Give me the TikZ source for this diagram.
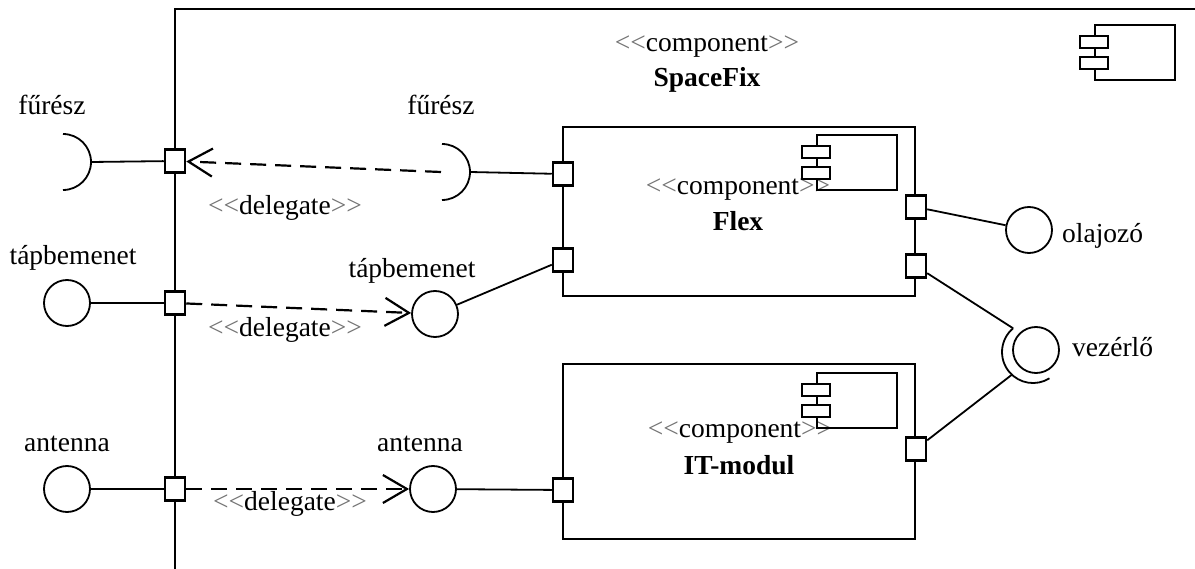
\documentclass[tikz,border=0pt]{standalone}
\usepackage{fontspec}
\setmainfont{Liberation Serif}[Ligatures=TeXOff]
\usetikzlibrary{arrows.meta}
\newcommand\mystereo[1]{{\color{black!55}<\kern0pt<}#1{\color{black!55}>\kern0pt>}}
\begin{document}
\begin{tikzpicture}[x=1pt,y=-1pt,
  box/.style={draw, line width=2.5pt, inner sep=0pt},
  port/.style={draw, fill=white, line width=2.5pt, minimum width=20pt, minimum height=23pt, inner sep=0pt},
  ball/.style={draw, circle, line width=1.8pt, minimum size=46pt, inner sep=0pt},
  lbl/.style={anchor=base, inner sep=0pt, font=\fontsize{27.5}{33}\selectfont},
  lblw/.style={anchor=base west, inner sep=0pt, font=\fontsize{27.5}{33}\selectfont},
  conn/.style={line width=1.8pt},
  deleg/.style={line width=2.2pt, dash pattern=on 16pt off 9pt, -{Straight Barb[length=24pt,width=28pt,line width=2.2pt]}},
  compicon/.pic={
    \draw[line width=2.5pt] (0,0) rectangle (80,55);
    \draw[line width=2.5pt, fill=white] (-15,11) rectangle (13,23);
    \draw[line width=2.5pt, fill=white] (-15,32) rectangle (13,44);
  }
]
\useasboundingbox (0,0) rectangle (1195,569);

% outer frame (SpaceFix)
\draw[line width=2.8pt] (1197,9) -- (175,9) -- (175,571);
\node[lbl] (sfst) at (707,52) {\mystereo{component}};
\node[lbl, font=\fontsize{27.5}{33}\selectfont\bfseries] (sfname) at (707,87) {SpaceFix};
\pic at (1095,25) {compicon};

% Flex component
\node[box, minimum width=352pt, minimum height=169pt] (flex) at (739,211.5) {};
\node[lbl] (flexst) at (738,195) {\mystereo{component}};
\node[lbl, font=\fontsize{27.5}{33}\selectfont\bfseries] (flexname) at (738,231) {Flex};
\pic at (817,135) {compicon};

% IT-modul component
\node[box, minimum width=352pt, minimum height=175pt] (itm) at (739,451.5) {};
\node[lbl] (itst) at (740,438) {\mystereo{component}};
\node[lbl, font=\fontsize{27.5}{33}\selectfont\bfseries] (itname) at (739,475) {IT-modul};
\pic at (817,373) {compicon};

% ports
\node[port] (pF) at (175,161) {};
\node[port] (pT) at (175,303) {};
\node[port] (pA) at (175,489) {};
\node[port] (fL1) at (563,174) {};
\node[port] (fL2) at (563,260) {};
\node[port] (fR1) at (916,207) {};
\node[port] (fR2) at (916,266) {};
\node[port] (itL) at (563,490) {};
\node[port] (itR) at (916,449) {};

% left: outer interfaces
\draw[conn] (63,134) arc[start angle=-90, end angle=90, radius=28];
\coordinate (sFtip) at (91,162);
\node[lbl] (lF) at (52,115) {fűrész};
\draw[conn] (sFtip) -- (pF);

\node[ball] (bT) at (67,303) {};
\node[lbl] (lT) at (73,265) {tápbemenet};
\draw[conn] (bT) -- (pT);

\node[ball] (bA) at (67,489) {};
\node[lbl] (lA) at (67,451) {antenna};
\draw[conn] (bA) -- (pA);

% inner interfaces
\draw[conn] (442,144) arc[start angle=-90, end angle=90, radius=28];
\coordinate (iFtip) at (470,172);
\coordinate (iFend) at (441,172);
\node[lbl] (liF) at (441,115) {fűrész};
\draw[conn] (iFtip) -- (fL1);
\draw[deleg] (iFend) -- (pF);
\node[lbl] (d1) at (285,215) {\mystereo{delegate}};

\node[ball] (iT) at (435,314) {};
\node[lbl] (liT) at (412,278) {tápbemenet};
\draw[deleg] (pT) -- (iT);
\draw[conn] (iT) -- (fL2);
\node[lbl] (d2) at (285,337) {\mystereo{delegate}};

\node[ball] (iA) at (433,489) {};
\node[lbl] (liA) at (420,452) {antenna};
\draw[deleg] (pA) -- (iA);
\draw[conn] (iA) -- (itL);
\node[lbl] (d3) at (290,510) {\mystereo{delegate}};

% right side
\node[ball] (bO) at (1029,230) {};
\node[lblw] (lO) at (1062,243) {olajozó};
\draw[conn] (fR1) -- (bO);

\node[ball] (bV) at (1036,350) {};
\draw[conn] (1013.1,328.3) arc[start angle=230, end angle=58, radius=31];
\coordinate (vS1) at (1013.1,328.3);
\coordinate (vS2) at (1011.9,374.7);
\node[lblw] (lV) at (1072,357) {vezérlő};
\draw[conn] (fR2) -- (vS1);
\draw[conn] (itR) -- (vS2);
\end{tikzpicture}
\end{document}
